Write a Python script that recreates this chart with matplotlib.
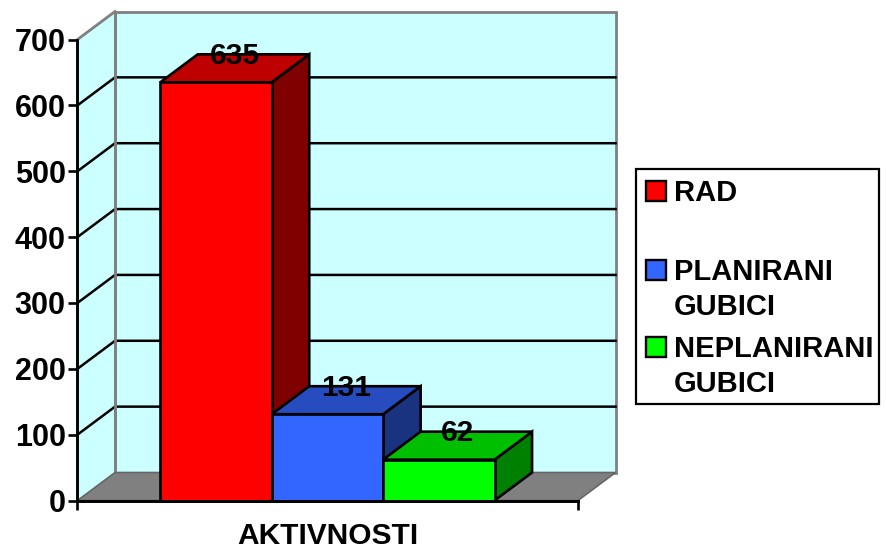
import matplotlib
matplotlib.use('Agg')
import matplotlib.pyplot as plt
from matplotlib.patches import Polygon, Rectangle

plt.rcParams['font.family'] = ['Liberation Sans', 'DejaVu Sans']
plt.rcParams['font.weight'] = 'bold'

series = ['RAD', 'PLANIRANI\nGUBICI', 'NEPLANIRANI\nGUBICI']
values = [635, 131, 62]
y_ticks = [0, 100, 200, 300, 400, 500, 600, 700]
category = 'AKTIVNOSTI'

front_colors = ['#FF0000', '#3366FF', '#00FF00']
top_colors = ['#BF0000', '#264CBF', '#00BF00']
side_colors = ['#800000', '#1A3380', '#008000']

W, H = 887, 548
# depth of the fake 3d box, in data units
DX = 37.5 / 500
DY = 28 / 461 * 700
BAR_START = 82.7 / 500
BAR_W = 111.3 / 500
GRAY = '#808080'
WALL = '#CCFFFF'

fig = plt.figure(figsize=(W / 100, H / 100), dpi=100)
ax = fig.add_axes([77.5 / W, (H - 500.5) / H, 500.5 / W, 461 / H])
ax.set_xlim(0, 1)
ax.set_ylim(0, 700)
ax.patch.set_visible(False)


def poly(points, face, edge='black', lw=1.9, z=2):
    ax.add_patch(Polygon(points, closed=True, facecolor=face, edgecolor=edge,
                         linewidth=lw, zorder=z, clip_on=False, joinstyle='miter'))


# side wall, back wall, floor
poly([(0, 0), (DX, DY), (DX, 700 + DY), (0, 700)], WALL, edge='none', z=1)
poly([(DX, DY), (1 + DX, DY), (1 + DX, 700 + DY), (DX, 700 + DY)], WALL, GRAY, 2.0, z=1)
poly([(0, 0), (DX, DY), (1 + DX, DY), (1, 0)], GRAY, '#666666', 1.2, z=1.5)

for t in y_ticks[1:-1]:
    ax.plot([0, DX, 1 + DX], [t, t + DY, t + DY], color='black', lw=1.8,
            zorder=1.2, clip_on=False, solid_joinstyle='miter')
ax.plot([0, DX], [700, 700 + DY], color=GRAY, lw=2.0, zorder=1.2, clip_on=False)
ax.plot([DX, DX], [DY, 700 + DY], color=GRAY, lw=2.0, zorder=1.3, clip_on=False)

for i, v in enumerate(values):
    x0 = BAR_START + i * BAR_W
    x1 = x0 + BAR_W
    poly([(x1, 0), (x1 + DX, DY), (x1 + DX, v + DY), (x1, v)], side_colors[i], z=3 + i)
    poly([(x0, v), (x0 + DX, v + DY), (x1 + DX, v + DY), (x1, v)], top_colors[i], z=3 + i)
    poly([(x0, 0), (x1, 0), (x1, v), (x0, v)], front_colors[i], z=3 + i)
    ax.text((x0 + x1 + DX) / 2, v + DY - 2, str(v), ha='center', va='center',
            fontsize=21.5, color='black', zorder=10, clip_on=False)

ax.set_yticks(y_ticks)
ax.set_xticks([0, 1])
ax.set_xticklabels([])
ax.tick_params(axis='y', length=6.5, width=1.9, labelsize=22, pad=2)
ax.tick_params(axis='x', length=6.5, width=1.9)
for name in ['top', 'right']:
    ax.spines[name].set_visible(False)
for name in ['left', 'bottom']:
    ax.spines[name].set_linewidth(2.1)
    ax.spines[name].set_zorder(8)
ax.text(0.5, -0.076, category, ha='center', va='center', transform=ax.transAxes, fontsize=21.5)

# legend drawn by hand in pixel coordinates, the entries are unevenly spaced
lg = fig.add_axes([0, 0, 1, 1])
lg.set_xlim(0, W)
lg.set_ylim(H, 0)
lg.axis('off')
lg.add_patch(Rectangle((636.5, 168.5), 243, 235, facecolor='white', edgecolor='black', linewidth=1.6))
legend_y = [191, 270, 347]
for name, color, ly in zip(series, front_colors, legend_y):
    lg.add_patch(Rectangle((646, ly - 10), 20, 20, facecolor=color, edgecolor='black', linewidth=1.7))
    lg.text(674, ly - 12, name, ha='left', va='top', fontsize=21, linespacing=1.3)

fig.savefig('out.png', dpi=100)
